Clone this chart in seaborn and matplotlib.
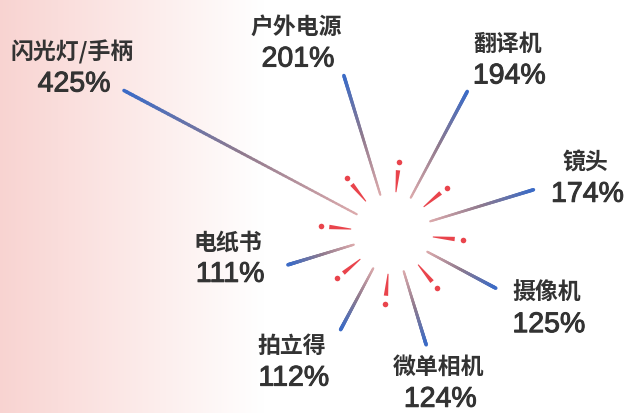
import numpy as np
import matplotlib
matplotlib.use('Agg')
import matplotlib.pyplot as plt
import matplotlib.patheffects as pe
import seaborn as sns
import pandas as pd
from matplotlib.collections import LineCollection
from matplotlib.colors import LinearSegmentedColormap

# ── data ─────────────────────────────────────
categories = ['闪光灯/手柄', '户外电源', '翻译机', '镜头',
              '摄像机', '微单相机', '拍立得', '电纸书']
growth = [425, 201, 194, 174, 125, 124, 112, 111]
pct_labels = [f'{v}%' for v in growth]

# ── layout (pixel space) ─────────────────────
W, H = 627, 413
cx, cy = 392, 233          # centre of the burst
r0 = 40                    # inner radius of rays
k = 0.62                   # pixels per percent
start_deg, step_deg = 152, -45
# name-label offset from ray tip
offsets = [(-52, -38), (-48, -48), (40, -47), (52, -27),
           (51, 5), (12, 23), (-49, 17), (-60, -22)]
gap = 32

sns.set_theme(style='white')
plt.rcParams['font.family'] = ['Noto Sans CJK SC', 'DejaVu Sans']

fig = plt.figure(figsize=(W / 100, H / 100), dpi=100)
ax = fig.add_axes([0, 0, 1, 1])

# background: pink on the left fading to white
xs = np.linspace(0, 1, 400)
fade = np.clip(1 - xs / 0.42, 0, 1)
pink = np.array([0.975, 0.83, 0.82])
bg = 1 - (1 - pink)[None, :] * fade[:, None]
ax.imshow(bg[None, :, :], extent=[0, W, H, 0], aspect='auto', zorder=0)

ang = np.deg2rad(start_deg + step_deg * np.arange(len(growth)))
r_end = r0 + k * np.array(growth)

# rays: faded red at the centre to blue at the tip
cmap = LinearSegmentedColormap.from_list('ray', ['#dcaaac', '#8f7a8e', '#3c6bc6'])
for a, r in zip(ang, r_end):
    t = np.linspace(0, 1, 80)
    rr = r0 + (r - r0) * t
    px = cx + rr * np.cos(a)
    py = cy - rr * np.sin(a)
    pts = np.column_stack([px, py]).reshape(-1, 1, 2)
    segs = np.concatenate([pts[:-1], pts[1:]], axis=1)
    lc = LineCollection(segs, cmap=cmap, linewidths=np.linspace(1.6, 2.6, len(segs)),
                        capstyle='round', zorder=2)
    lc.set_array(t[:-1])
    ax.add_collection(lc)

# red exclamation marks between rays
red = '#e9444c'
mid = ang + np.deg2rad(step_deg / 2)
for a in mid:
    ux, uy = np.cos(a), -np.sin(a)
    nx, ny = -uy, ux
    r_in, r_out = 41, 63
    w_in, w_out = 0.5, 2.2
    poly_x = [cx + ux * r_in + nx * w_in, cx + ux * r_out + nx * w_out,
              cx + ux * r_out - nx * w_out, cx + ux * r_in - nx * w_in]
    poly_y = [cy + uy * r_in + ny * w_in, cy + uy * r_out + ny * w_out,
              cy + uy * r_out - ny * w_out, cy + uy * r_in - ny * w_in]
    ax.fill(poly_x, poly_y, color=red, lw=0, zorder=3)
dots = pd.DataFrame({'x': cx + 71 * np.cos(mid), 'y': cy - 71 * np.sin(mid)})
sns.scatterplot(data=dots, x='x', y='y', color=red, s=16, linewidth=0, ax=ax, zorder=3)
ax.set_xlim(0, W)
ax.set_ylim(H, 0)
ax.axis('off')

# labels
txt = '#333333'
thick = [pe.withStroke(linewidth=0.7, foreground=txt)]
for a, r, name, lab, (dx, dy) in zip(ang, r_end, categories, pct_labels, offsets):
    tx = cx + r * np.cos(a) + dx
    ty = cy - r * np.sin(a) + dy
    ax.text(tx, ty, name, ha='center', va='center', fontsize=16.5,
            color=txt, weight='bold', zorder=4)
    ax.text(tx + 2, ty + gap, lab, ha='center', va='center', fontsize=20.5,
            color=txt, family=['Liberation Sans', 'DejaVu Sans'],
            path_effects=thick, zorder=4)

fig.savefig('out.png', dpi=100)
